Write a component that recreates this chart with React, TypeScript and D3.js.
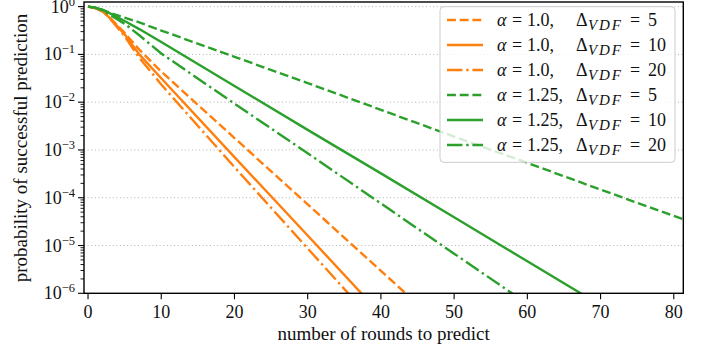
import React from 'react';
import * as d3 from 'd3';

const rounds = [0, 1, 2, 3, 5, 7, 10, 20, 30, 40, 50, 60, 70, 82];

// log10 of the probability, alpha = 1.0
const a10d5 = [0, -0.03, -0.1, -0.23, -0.55, -0.9, -1.36, -2.75, -4.14, -5.53, -6.92];
const a10d10 = [0, -0.03, -0.1, -0.24, -0.58, -1.0, -1.5, -3.15, -4.79, -6.44];
const a10d20 = [0, -0.03, -0.1, -0.25, -0.62, -1.07, -1.63, -3.36, -5.06, -6.76];

// log10 of the probability, alpha = 1.25
const a125d5 = [0, -0.02, -0.07, -0.13, -0.23, -0.33, -0.5, -1.05, -1.6, -2.16, -2.72, -3.27, -3.83, -4.49];
const a125d10 = [0, -0.02, -0.07, -0.14, -0.3, -0.47, -0.74, -1.66, -2.58, -3.49, -4.41, -5.33, -6.25];
const a125d20 = [0, -0.02, -0.08, -0.17, -0.36, -0.6, -0.98, -2.03, -3.07, -4.12, -5.17, -6.22];

const xTicks = [0, 10, 20, 30, 40, 50, 60, 70, 80];
const yExps = [0, -1, -2, -3, -4, -5, -6];

const ORANGE = '#ff7f0e';
const GREEN = '#2ca02c';
const DASH = '8.9,3.8';
const DASHDOT = '15.4,3.8,2.4,3.8';

const series = [
  { alpha: '1.0,', delta: '5', values: a10d5, color: ORANGE, dash: DASH },
  { alpha: '1.0,', delta: '10', values: a10d10, color: ORANGE, dash: null },
  { alpha: '1.0,', delta: '20', values: a10d20, color: ORANGE, dash: DASHDOT },
  { alpha: '1.25,', delta: '5', values: a125d5, color: GREEN, dash: DASH },
  { alpha: '1.25,', delta: '10', values: a125d10, color: GREEN, dash: null },
  { alpha: '1.25,', delta: '20', values: a125d20, color: GREEN, dash: DASHDOT },
];

const App = () => {
  const left = 84, right = 683.3, top = 2, bottom = 293.3;
  const font = '"Liberation Serif", "DejaVu Serif", serif';

  const x = d3.scaleLinear().domain([-0.55, 81.3]).range([left, right]);
  const y = d3.scaleLog().domain([1e-6, 1.25]).range([bottom, top]);

  const line = d3
    .line<[number, number]>()
    .x((d) => x(d[0]))
    .y((d) => y(Math.pow(10, d[1])));

  // minor ticks 2..9 x 10^k
  const minor: number[] = [];
  for (let e = -6; e < 0; e++) {
    for (let m = 2; m <= 9; m++) minor.push(m * Math.pow(10, e));
  }

  return (
    <svg
      width={711}
      height={351}
      style={{ position: 'absolute', left: 0, top: 0, background: '#fff' }}
      fontFamily={font}
    >
      <defs>
        <clipPath id="plot">
          <rect x={left} y={top} width={right - left} height={bottom - top} />
        </clipPath>
      </defs>

      {/* grid */}
      {yExps.slice(0, 6).map((e) => (
        <line
          key={'g' + e}
          x1={left}
          x2={right}
          y1={y(Math.pow(10, e))}
          y2={y(Math.pow(10, e))}
          stroke="#b0b0b0"
          strokeWidth={1}
          strokeDasharray="1,2.6"
        />
      ))}

      {/* curves */}
      <g clipPath="url(#plot)">
        {series.map((s, i) => (
          <path
            key={i}
            d={line(s.values.map((v, j) => [rounds[j], v] as [number, number])) || ''}
            fill="none"
            stroke={s.color}
            strokeWidth={2.4}
            strokeDasharray={s.dash || undefined}
          />
        ))}
      </g>

      {/* spines */}
      <rect x={left} y={top} width={right - left} height={bottom - top} fill="none" stroke="#000" strokeWidth={1.4} />

      {/* y ticks */}
      {minor.map((v, i) => (
        <line key={'m' + i} x1={left - 3.5} x2={left} y1={y(v)} y2={y(v)} stroke="#000" strokeWidth={0.9} />
      ))}
      {yExps.map((e) => (
        <g key={'y' + e}>
          <line x1={left - 6} x2={left} y1={y(Math.pow(10, e))} y2={y(Math.pow(10, e))} stroke="#000" strokeWidth={1.1} />
          <text x={75} y={y(Math.pow(10, e)) + 6} textAnchor="end" fontSize={18} fill="#111">
            10
            <tspan dy={-7} fontSize={12.5}>
              {e === 0 ? '0' : '\u2212' + -e}
            </tspan>
          </text>
        </g>
      ))}

      {/* x ticks */}
      {xTicks.map((t) => (
        <g key={'x' + t}>
          <line x1={x(t)} x2={x(t)} y1={bottom} y2={bottom + 6} stroke="#000" strokeWidth={1.1} />
          <text x={x(t)} y={318} textAnchor="middle" fontSize={18} fill="#111">
            {t}
          </text>
        </g>
      ))}

      {/* axis labels */}
      <text x={(left + right) / 2} y={340} textAnchor="middle" fontSize={19} fill="#111">
        number of rounds to predict
      </text>
      <text transform="translate(27,148) rotate(-90)" textAnchor="middle" fontSize={19} fill="#111">
        probability of successful prediction
      </text>

      {/* legend */}
      <rect x={440} y={6.7} width={235} height={155.6} rx={4} fill="#fff" fillOpacity={0.8} stroke="#cccccc" strokeWidth={1} />
      {series.map((s, i) => {
        const cy = 20 + i * 25;
        const by = cy + 6;
        return (
          <g key={'l' + i} fill="#111" fontSize={18}>
            <line x1={447} x2={483} y1={cy} y2={cy} stroke={s.color} strokeWidth={2.4} strokeDasharray={s.dash || undefined} />
            <text x={497} y={by} fontStyle="italic">α</text>
            <text x={512} y={by}>=</text>
            <text x={527} y={by}>{s.alpha}</text>
            <text x={576} y={by}>Δ</text>
            <text x={588} y={by + 4} fontStyle="italic" fontSize={15} textLength={33} lengthAdjust="spacing">
              VDF
            </text>
            <text x={630} y={by}>=</text>
            <text x={648} y={by}>{s.delta}</text>
          </g>
        );
      })}
    </svg>
  );
};

export default App;
